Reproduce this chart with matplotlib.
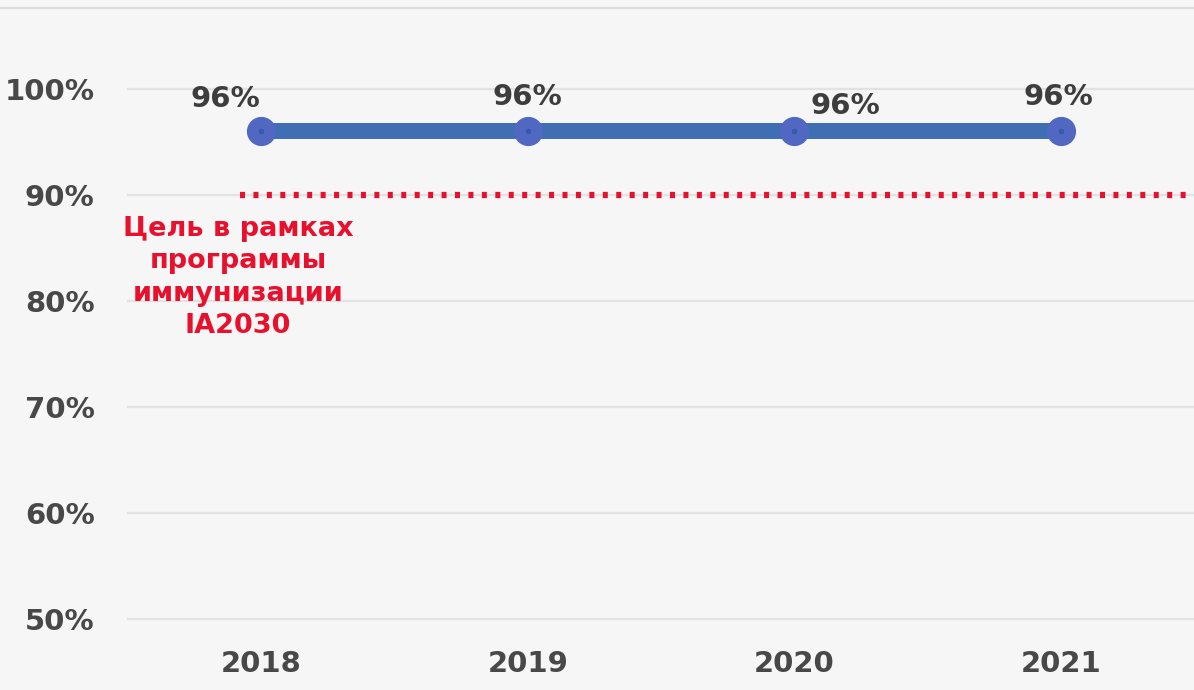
import matplotlib
matplotlib.use('Agg')
from matplotlib import pyplot as plt
from matplotlib.lines import Line2D

years = ['2018', '2019', '2020', '2021']
coverage = [96, 96, 96, 96]
target = 90
yticks = [50, 60, 70, 80, 90, 100]
target_text = 'Цель в рамках\nпрограммы\nиммунизации\nIA2030'
# label offsets in points (position only)
offsets = [(-26, 23), (0, 25), (37, 18), (-2, 25)]

bg = '#f6f6f6'
fig = plt.figure(figsize=(11.94, 6.9), dpi=100, facecolor=bg)
ax = fig.add_axes([128 / 1194, 71 / 690, 1066 / 1194, 530 / 690], facecolor=bg)

x = list(range(len(years)))
ax.set_xlim(-0.5, 3.5)
ax.set_ylim(50, 100)

for yv in yticks:
    ax.axhline(yv, color='#e2e2e2', lw=1.6, zorder=1, clip_on=False)

ax.plot([-0.08, 3.47], [target, target], color='#e8112d', lw=4.5,
        linestyle=(0, (0.8, 1.35)), zorder=2, clip_on=False)

ax.plot(x, coverage, color='#3f6eb5', lw=11.5, solid_capstyle='butt', zorder=3, clip_on=False)
ax.plot(x, coverage, 'o', ms=20, color='#5068c2', zorder=4, clip_on=False)
ax.plot(x, coverage, 'o', ms=3, color='#3a58a8', zorder=5, clip_on=False)

for xi, v, off in zip(x, coverage, offsets):
    ax.annotate(f'{v}%', (xi, v), xytext=off, textcoords='offset points',
                ha='center', va='center', fontsize=21, fontweight='bold',
                color='#3d3d3d', family='DejaVu Sans', zorder=6)

ax.text(-0.087, 82.2, target_text, ha='center', va='center', fontsize=19.5,
        fontweight='bold', color='#e8112d', family='DejaVu Sans',
        linespacing=1.32, zorder=6)

ax.set_xticks(x)
ax.set_xticklabels(years)
ax.set_yticks(yticks)
ax.set_yticklabels([f'{v}%' for v in yticks])
ax.tick_params(axis='both', length=0, labelsize=21, labelcolor='#484848')
ax.tick_params(axis='y', pad=24)
ax.tick_params(axis='x', pad=22)
for lab in ax.get_xticklabels() + ax.get_yticklabels():
    lab.set_fontweight('bold')
    lab.set_family('DejaVu Sans')
for s in ax.spines.values():
    s.set_visible(False)

fig.add_artist(Line2D([0, 1], [1 - 8 / 690, 1 - 8 / 690], color='#dcdcdc', lw=1.5,
                      transform=fig.transFigure))

fig.savefig('out.png', dpi=100, facecolor=bg)
